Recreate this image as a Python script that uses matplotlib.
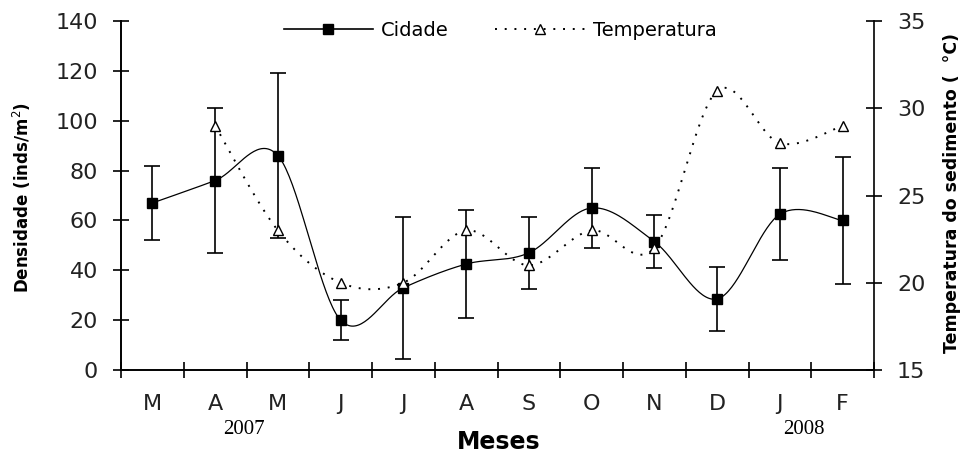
import numpy as np
import matplotlib.pyplot as plt
from matplotlib.lines import Line2D

# Monthly values, Mar 2007 - Feb 2008
months = ['M', 'A', 'M', 'J', 'J', 'A', 'S', 'O', 'N', 'D', 'J', 'F']
densidade = [67, 76, 86, 20, 33, 42.5, 47, 65, 51.5, 28.5, 62.5, 60]
densidade_err = [15, 29, 33, 8, 28.5, 21.5, 14.5, 16, 10.5, 13, 18.5, 25.5]
temperatura = [np.nan, 29, 23, 20, 20, 23, 21, 23, 22, 31, 28, 29]


def smooth_curve(x, y, n=40):
    """Bezier smoothing through every point (Catmull-Rom style control points)."""
    x = np.asarray(x, float)
    y = np.asarray(y, float)
    px, py = [], []
    m = len(x)
    for i in range(m - 1):
        i0 = max(i - 1, 0)
        i3 = min(i + 2, m - 1)
        p0 = np.array([x[i0], y[i0]])
        p1 = np.array([x[i], y[i]])
        p2 = np.array([x[i + 1], y[i + 1]])
        p3 = np.array([x[i3], y[i3]])
        c1 = p1 + (p2 - p0) / 6
        c2 = p2 - (p3 - p1) / 6
        t = np.linspace(0, 1, n)[:, None]
        seg = ((1 - t) ** 3 * p1 + 3 * (1 - t) ** 2 * t * c1
               + 3 * (1 - t) * t ** 2 * c2 + t ** 3 * p2)
        px.extend(seg[:, 0])
        py.extend(seg[:, 1])
    return np.array(px), np.array(py)


fig = plt.figure(figsize=(9.64, 4.58), dpi=100)
ax1 = fig.add_axes([121 / 964, 1 - 370 / 458, (874 - 121) / 964, (370 - 21) / 458])
ax2 = ax1.twinx()

x = np.arange(len(months))

# Cidade: smooth solid line, square markers, error bars
sx, sy = smooth_curve(x, densidade)
ax1.plot(sx, sy, color='black', lw=0.9, zorder=2)
ax1.errorbar(x, densidade, yerr=densidade_err, fmt='none', ecolor='black',
             elinewidth=1.2, capsize=5.5, capthick=1.2, zorder=3)
ax1.plot(x, densidade, 's', color='black', ms=7.5, zorder=4)

# Temperatura: smooth dotted line, open triangles
t = np.array(temperatura)
ok = ~np.isnan(t)
tx, ty = smooth_curve(x[ok], t[ok])
ax2.plot(tx, ty, color='black', lw=1.4, linestyle=(0, (1, 4)), zorder=2)
ax2.plot(x[ok], t[ok], '^', color='black', mfc='white', mew=1.0, ms=7.5, zorder=4)

ax1.set_xlim(-0.5, 11.5)
ax1.set_ylim(0, 140)
ax1.set_yticks(np.arange(0, 141, 20))
ax2.set_ylim(15, 35)
ax2.set_yticks(np.arange(15, 36, 5))

ax1.set_xticks(np.arange(-0.5, 12, 1))
ax1.set_xticklabels([])
ax1.set_xticks(x, minor=True)
ax1.set_xticklabels(months, minor=True)

for ax in (ax1, ax2):
    ax.spines['top'].set_visible(False)
    for s in ('left', 'right', 'bottom'):
        ax.spines[s].set_linewidth(1.2)
ax1.spines['right'].set_visible(False)

tick_font = 16
ax1.tick_params(axis='both', which='major', direction='inout', length=11,
                width=1.2, labelsize=tick_font, pad=11)
ax1.tick_params(axis='x', which='minor', length=0, labelsize=tick_font, pad=17)
ax2.tick_params(axis='y', which='major', direction='inout', length=11,
                width=1.2, labelsize=tick_font, pad=11)
for lab in ax1.get_yticklabels() + ax2.get_yticklabels() + ax1.get_xticklabels(minor=True):
    lab.set_color('#222222')

fig.text(22 / 964, 1 - 197 / 458, 'Densidade (inds/m$^{2}$)', rotation=90,
         ha='center', va='center', fontsize=12, fontweight='bold')
fig.text(952 / 964, 1 - 193 / 458, 'Temperatura do sedimento (  °C)', rotation=90,
         ha='center', va='center', fontsize=12.5, fontweight='bold')
fig.text(499 / 964, 1 - 442 / 458, 'Meses', ha='center', va='center',
         fontsize=17, fontweight='bold')
fig.text(244 / 964, 1 - 429 / 458, '2007', ha='center', va='center',
         fontsize=15, family='Liberation Serif')
fig.text(804 / 964, 1 - 429 / 458, '2008', ha='center', va='center',
         fontsize=15, family='Liberation Serif')

handles = [
    Line2D([], [], color='black', lw=1.2, marker='s', ms=7.5),
    Line2D([], [], color='black', lw=1.4, linestyle=(0, (1, 4)), marker='^',
           mfc='white', mew=1.0, ms=7.5),
]
ax1.legend(handles, ['Cidade', 'Temperatura'], loc='center', ncol=2,
           bbox_to_anchor=(500 / 964, 1 - 30 / 458), bbox_transform=fig.transFigure,
           frameon=False, fontsize=14, handlelength=4.6, handletextpad=0.4,
           columnspacing=2.4)

fig.savefig('out.png', dpi=100)
